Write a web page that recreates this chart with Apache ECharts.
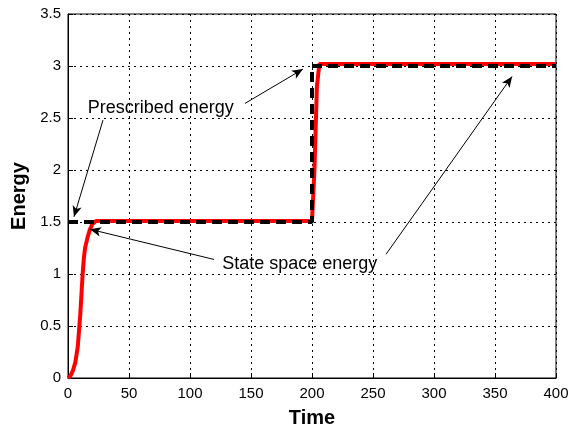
<!DOCTYPE html>
<html>
<head>
<meta charset="utf-8">
<script src="https://cdn.jsdelivr.net/npm/echarts@6/dist/echarts.min.js"></script>
<style>
  html, body { margin: 0; padding: 0; background: #fff; }
  #chart { width: 569px; height: 431px; }
</style>
</head>
<body>
<div id="chart"></div>
<script>
// tick labels
const xTicks = [0, 50, 100, 150, 200, 250, 300, 350, 400]
const yTicks = [0, 0.5, 1, 1.5, 2, 2.5, 3, 3.5]

// prescribed energy (black dashed step)
const prescribedTime = [0, 200, 200, 400]
const prescribedEnergy = [1.5, 1.5, 3, 3]

// state space energy (red)
const stateTime = [0, 2, 4, 6, 8, 9, 10, 11, 12, 13, 14, 16, 18, 20, 23, 200, 202, 204, 206, 400]
const stateEnergy = [0, 0.02, 0.07, 0.15, 0.3, 0.45, 0.6, 0.8, 1.0, 1.15, 1.25, 1.35, 1.43, 1.48, 1.51, 1.51, 2.0, 2.8, 3.02, 3.02]

// annotation arrows: [fromTime, fromEnergy, toTime, toEnergy]
const arrows = [
  [28.7, 2.48, 4.9, 1.55],
  [145, 2.64, 192.6, 2.97],
  [119.7, 1.14, 18, 1.43],
  [260.7, 1.19, 364, 2.90]
]
// annotation labels: [time, energy, text]
const labels = [
  [76, 2.6, 'Prescribed energy'],
  [190, 1.1, 'State space energy']
]

const chart = echarts.init(document.getElementById('chart'))
const font = 'Liberation Sans, Arial, sans-serif'

const zip = (xs, ys) => xs.map((x, i) => [x, ys[i]])

const option = {
  backgroundColor: '#fff',
  animation: false,
  textStyle: { fontFamily: font },
  grid: {
    left: 68, right: 13, top: 14, bottom: 53,
    outerBoundsMode: 'none',
    show: true, borderColor: '#000', borderWidth: 1
  },
  xAxis: {
    type: 'value',
    min: 0, max: 400, interval: 50,
    name: 'Time',
    nameLocation: 'middle',
    nameGap: 30,
    nameTextStyle: { fontSize: 20, fontWeight: 'bold', color: '#000', fontFamily: font },
    axisLine: { lineStyle: { color: '#000' } },
    axisTick: { inside: true, length: 5, lineStyle: { color: '#000' } },
    axisLabel: { color: '#000', fontSize: 15, margin: 8, fontFamily: font },
    splitLine: { lineStyle: { color: '#000', type: [2, 4], width: 1 } }
  },
  yAxis: {
    type: 'value',
    min: 0, max: 3.5, interval: 0.5,
    name: 'Energy',
    nameLocation: 'middle',
    nameGap: 33,
    nameTextStyle: { fontSize: 20, fontWeight: 'bold', color: '#000', fontFamily: font },
    axisLine: { lineStyle: { color: '#000' } },
    axisTick: { inside: true, length: 5, lineStyle: { color: '#000' } },
    axisLabel: { color: '#000', fontSize: 15, margin: 7, fontFamily: font },
    splitLine: { lineStyle: { color: '#000', type: [2, 4], width: 1 } }
  },
  series: [
    {
      name: 'State space energy',
      type: 'line',
      data: zip(stateTime, stateEnergy),
      showSymbol: false,
      lineStyle: { color: '#ff0000', width: 4 },
      z: 2
    },
    {
      name: 'Prescribed energy',
      type: 'line',
      data: zip(prescribedTime, prescribedEnergy),
      showSymbol: false,
      lineStyle: { color: '#000', width: 4, type: [10, 6] },
      z: 3,
      markLine: {
        silent: true,
        symbol: ['none', 'arrow'],
        symbolSize: [7, 11],
        label: { show: false },
        lineStyle: { color: '#000', width: 1, type: 'solid' },
        data: arrows.map(a => [{ coord: [a[0], a[1]] }, { coord: [a[2], a[3]] }])
      },
      markPoint: {
        silent: true,
        symbol: 'circle',
        symbolSize: 0,
        label: {
          show: true,
          position: 'inside',
          color: '#000',
          fontSize: 18,
          fontFamily: font
        },
        data: labels.map(l => ({ coord: [l[0], l[1]], value: l[2], label: { formatter: l[2] } }))
      }
    }
  ]
}

chart.setOption(option)
</script>
</body>
</html>
